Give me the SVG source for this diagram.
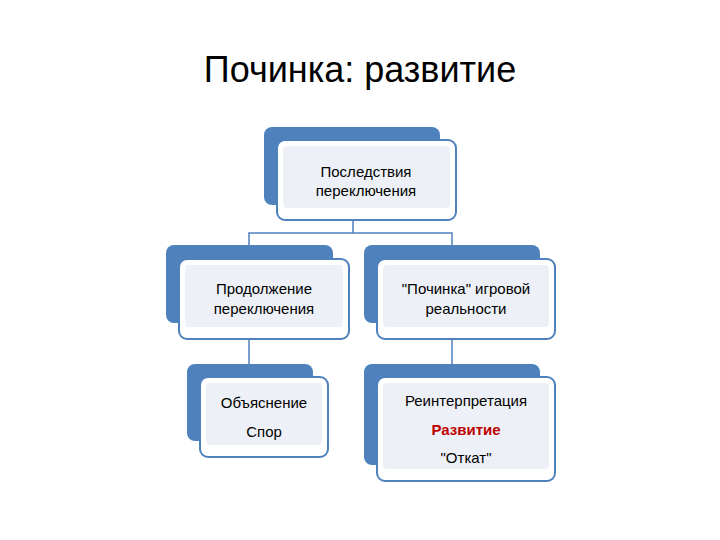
<svg xmlns="http://www.w3.org/2000/svg" width="720" height="540" viewBox="0 0 720 540">
<style>
.back{fill:#4f81bd}
.front{fill:#ffffff;stroke:#4f81bd;stroke-width:2}
.inner{fill:#edf1f7}
.t{font-family:"Liberation Sans","Open Sans",sans-serif;font-size:15px;fill:#000;text-anchor:middle}
.red{fill:#c00000;font-weight:bold}
.c{fill:none;stroke:#4f81bd;stroke-width:1.5}
</style>
<rect width="720" height="540" fill="#fff"/>
<text x="360" y="82" font-family="'Liberation Sans','Open Sans',sans-serif" font-size="36" text-anchor="middle">Починка: развитие</text>
<g id="connectors" class="c">
<path d="M353 221V233M249 246V233H452V246"/>
<path d="M249 339V365"/>
<path d="M452 339V365"/>
</g>
<g id="n1">
<rect class="back" x="264" y="127" width="176" height="78" rx="8"/>
<rect class="front" x="277" y="140" width="179" height="80" rx="8"/>
<rect class="inner" x="283" y="146" width="167" height="62" rx="4"/>
<text class="t" x="366" y="177">Последствия</text>
<text class="t" x="366" y="196">переключения</text>
</g>
<g id="n2">
<rect class="back" x="166" y="245" width="167" height="78" rx="8"/>
<rect class="front" x="179" y="259" width="170" height="80" rx="8"/>
<rect class="inner" x="185" y="265" width="158" height="62" rx="4"/>
<text class="t" x="264" y="294">Продолжение</text>
<text class="t" x="264" y="314">переключения</text>
</g>
<g id="n3">
<rect class="back" x="364" y="245" width="176" height="78" rx="8"/>
<rect class="front" x="377" y="259" width="178" height="80" rx="8"/>
<rect class="inner" x="383" y="265" width="166" height="62" rx="4"/>
<text class="t" x="466" y="294">"Починка" игровой</text>
<text class="t" x="466" y="314">реальности</text>
</g>
<g id="n4">
<rect class="back" x="187" y="364" width="126" height="77" rx="8"/>
<rect class="front" x="200" y="377" width="128" height="80" rx="8"/>
<rect class="inner" x="206" y="383" width="116" height="62" rx="4"/>
<text class="t" x="264" y="408">Объяснение</text>
<text class="t" x="264" y="437">Спор</text>
</g>
<g id="n5">
<rect class="back" x="364" y="364" width="176" height="101" rx="8"/>
<rect class="front" x="377" y="377" width="178" height="104" rx="8"/>
<rect class="inner" x="383" y="383" width="166" height="86" rx="4"/>
<text class="t" x="466" y="406">Реинтерпретация</text>
<text class="t red" x="466" y="435">Развитие</text>
<text class="t" x="466" y="463">"Откат"</text>
</g>
</svg>
